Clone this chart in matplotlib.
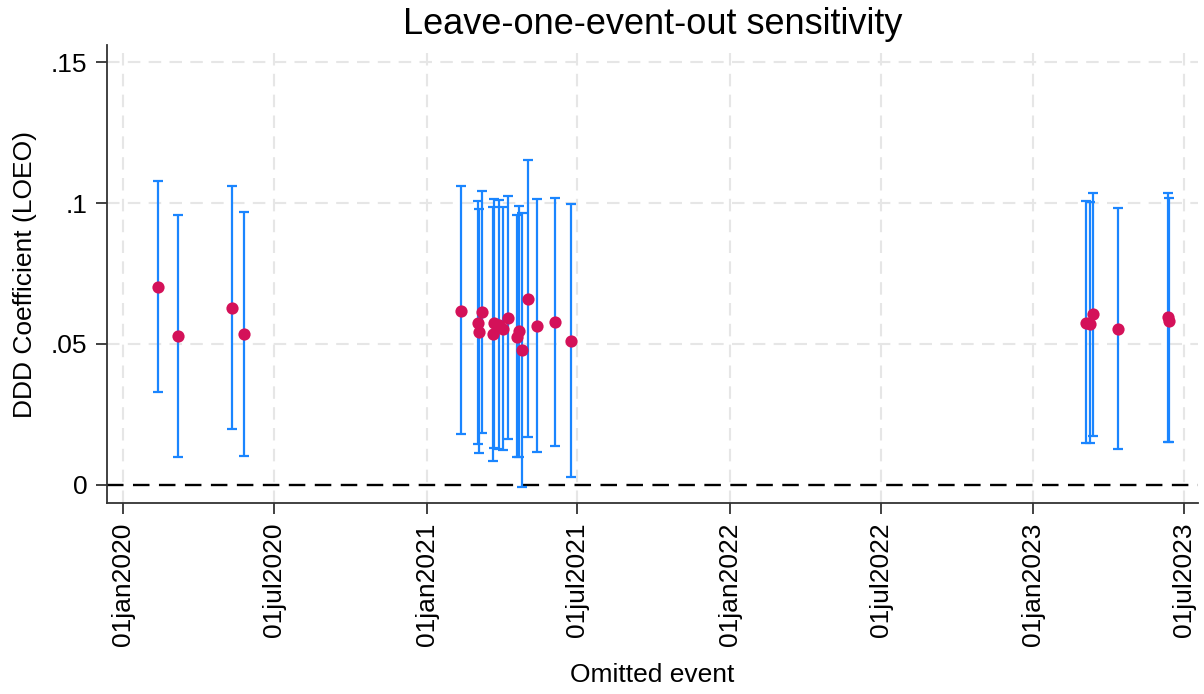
import numpy as np
import pandas as pd
import matplotlib
matplotlib.use("Agg")
import matplotlib.pyplot as plt

# Leave-one-event-out estimates (omitted event date, coefficient, 95% CI)
event_dates = [
    "2020-02-12", "2020-03-08", "2020-05-12", "2020-05-26",
    "2021-02-11", "2021-03-04", "2021-03-05", "2021-03-08",
    "2021-03-21", "2021-03-23", "2021-03-29", "2021-04-02",
    "2021-04-08", "2021-04-19", "2021-04-22", "2021-04-26",
    "2021-05-03", "2021-05-13", "2021-06-04", "2021-06-23",
    "2023-03-05", "2023-03-10", "2023-03-14", "2023-04-13",
    "2023-06-12", "2023-06-13",
]
coef = [
    0.0703, 0.0528, 0.0629, 0.0537,
    0.0618, 0.0576, 0.0543, 0.0612,
    0.0534, 0.0573, 0.0567, 0.0553,
    0.0593, 0.0526, 0.0546, 0.0479,
    0.0660, 0.0565, 0.0577, 0.0512,
    0.0576, 0.0571, 0.0606, 0.0552,
    0.0597, 0.0583,
]
ci_low = [
    0.0330, 0.0098, 0.0198, 0.0103,
    0.0180, 0.0144, 0.0112, 0.0186,
    0.0086, 0.0132, 0.0128, 0.0125,
    0.0163, 0.0098, 0.0100, -0.0006,
    0.0169, 0.0116, 0.0139, 0.0030,
    0.0148, 0.0150, 0.0174, 0.0127,
    0.0154, 0.0152,
]
ci_high = [
    0.1078, 0.0957, 0.1060, 0.0969,
    0.1060, 0.1008, 0.0977, 0.1041,
    0.0987, 0.1013, 0.1011, 0.0985,
    0.1025, 0.0957, 0.0990, 0.0963,
    0.1152, 0.1014, 0.1017, 0.0996,
    0.1008, 0.1005, 0.1037, 0.0983,
    0.1034, 0.1017,
]

tick_dates = ["2020-01-01", "2020-07-01", "2021-01-01", "2021-07-01",
              "2022-01-01", "2022-07-01", "2023-01-01", "2023-07-01"]
tick_labels = ["01jan2020", "01jul2020", "01jan2021", "01jul2021",
               "01jan2022", "01jul2022", "01jan2023", "01jul2023"]
y_ticks = [0, 0.05, 0.10, 0.15]
y_labels = ["0", ".05", ".1", ".15"]

plt.rcParams["font.family"] = ["Liberation Sans", "DejaVu Sans"]

x = pd.to_datetime(event_dates)
coef = np.array(coef)
err = np.vstack([coef - np.array(ci_low), np.array(ci_high) - coef])

fig = plt.figure(figsize=(12.04, 6.94), dpi=100)
ax = fig.add_axes([0.0889, 0.2752, 0.9061, 0.6598])

# light dashed grid at every tick
grid_kw = dict(color="#e6e6e6", linewidth=1.5, linestyle=(0, (6, 4)), zorder=0)
for t in pd.to_datetime(tick_dates):
    ax.axvline(t, **grid_kw)
for yv in y_ticks[1:]:
    ax.axhline(yv, **grid_kw)

ax.axhline(0, color="black", linewidth=1.7, linestyle=(0, (7, 4)), zorder=1)

ax.errorbar(x, coef, yerr=err, fmt="none", ecolor="#1a85ff",
            elinewidth=1.6, capsize=3.5, capthick=1.6, zorder=2)
ax.plot(x, coef, "o", color="#d41159", markersize=8.8,
        markeredgewidth=0, zorder=3)

ax.set_xlim(pd.Timestamp("2019-12-13"), pd.Timestamp("2023-07-18"))
ax.set_ylim(-0.0064, 0.156)

ax.set_xticks(pd.to_datetime(tick_dates))
ax.set_xticklabels(tick_labels, rotation=90, fontsize=19)
ax.set_yticks(y_ticks)
ax.set_yticklabels(y_labels, fontsize=19)
ax.tick_params(axis="both", length=8, width=1.3, color="#333333", pad=6)

for side in ["top", "right"]:
    ax.spines[side].set_visible(False)
for side in ["left", "bottom"]:
    ax.spines[side].set_linewidth(1.3)
    ax.spines[side].set_color("#333333")

ax.set_xlabel("Omitted event", fontsize=19, labelpad=12)
ax.set_ylabel("DDD Coefficient (LOEO)", fontsize=19, labelpad=10)
fig.text(0.542, 0.965, "Leave-one-event-out sensitivity", fontsize=26,
         ha="center", va="center")

fig.savefig("out.png", dpi=100)
